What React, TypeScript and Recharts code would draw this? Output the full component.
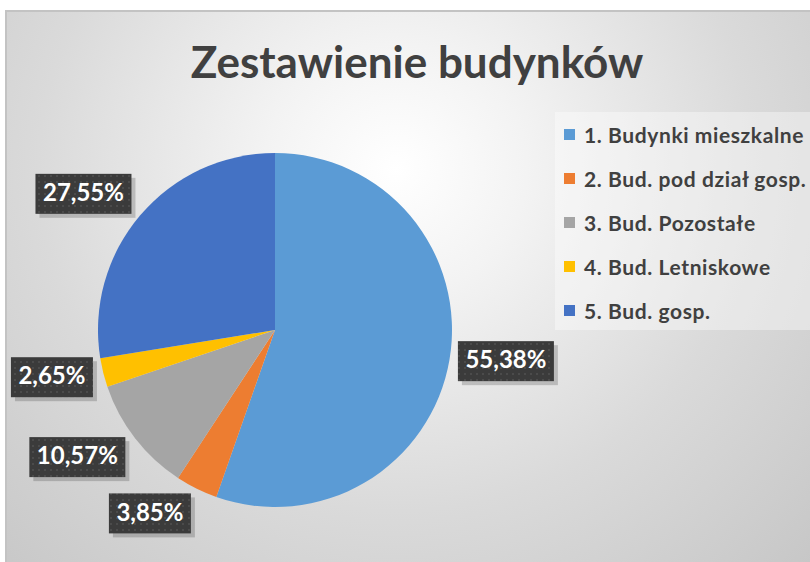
import { PieChart, Pie, Cell, Legend } from "recharts";

const categories = [
  "1. Budynki mieszkalne",
  "2. Bud. pod dział gosp.",
  "3. Bud. Pozostałe",
  "4. Bud. Letniskowe",
  "5. Bud. gosp.",
];
const shares = [55.38, 3.85, 10.57, 2.65, 27.55];
const colors = ["#5B9BD5", "#ED7D31", "#A5A5A5", "#FFC000", "#4472C4"];

// best-fit label nudges (degrees clockwise, extra radius)
const labelTurn = [-2, 8, 5, 2, -5];
const labelGap = [56, 45, 58, 51, 58];

const data = categories.map((name, i) => ({ name, value: shares[i] }));

const RAD = Math.PI / 180;
const fmt = (v: number) => v.toFixed(2).replace(".", ",") + "%";

const renderLabel = (props: any) => {
  const { cx, cy, midAngle, outerRadius, value, index } = props;
  const a = midAngle - labelTurn[index];
  const r = outerRadius + labelGap[index];
  const x = cx + r * Math.cos(-a * RAD);
  const y = cy + r * Math.sin(-a * RAD);
  const text = fmt(value);
  const w = text.length * 14 + 12;
  const h = 40;
  return (
    <g>
      <rect x={x - w / 2 + 4} y={y - h / 2 + 4} width={w} height={h} fill="rgba(0,0,0,0.18)" />
      <rect x={x - w / 2} y={y - h / 2} width={w} height={h} fill="url(#dots)" />
      <text
        x={x}
        y={y + 1}
        textAnchor="middle"
        dominantBaseline="middle"
        fill="#ffffff"
        fontSize={24}
        fontWeight={700}
        fontFamily="Lato, sans-serif"
      >
        {text}
      </text>
    </g>
  );
};

const LegendBox = () => (
  <div
    style={{
      width: 255,
      height: 218,
      background: "rgba(255,255,255,0.38)",
      boxSizing: "border-box",
    }}
  >
    {categories.map((c, i) => (
      <div
        key={c}
        style={{ display: "flex", alignItems: "center", height: 44, paddingLeft: 9 }}
      >
        <div style={{ width: 11, height: 11, background: colors[i], marginRight: 9 }} />
        <span
          style={{
            fontFamily: "Lato, sans-serif",
            fontWeight: 700,
            fontSize: 21,
            letterSpacing: 0.6,
            color: "#404040",
            whiteSpace: "nowrap",
          }}
        >
          {c}
        </span>
      </div>
    ))}
  </div>
);

export default function App() {
  return (
    <div style={{ position: "absolute", left: 0, top: 0, width: 810, height: 562, background: "#fff", overflow: "hidden" }}>
      <div
        style={{
          position: "absolute",
          left: 5,
          top: 10,
          width: 810,
          height: 560,
          borderTop: "2px solid #c3c3c3",
          borderLeft: "2px solid #c3c3c3",
          background:
            "radial-gradient(ellipse farthest-corner at 48% 28%, #ffffff 0%, #f3f3f3 22%, #dadada 60%, #c6c6c6 100%)",
        }}
      >
        <div
          style={{
            position: "absolute",
            left: 0,
            top: 23,
            width: 820,
            textAlign: "center",
            fontFamily: "Lato, sans-serif",
            fontWeight: 700,
            fontSize: 44,
            color: "#404040",
          }}
        >
          Zestawienie budynków
        </div>
        <PieChart width={803} height={550} style={{ position: "absolute", left: 0, top: 0 }}>
          <defs>
            <pattern id="dots" width="6" height="6" patternUnits="userSpaceOnUse">
              <rect width="6" height="6" fill="#3b3b3b" />
              <rect x="1" y="1" width="2" height="2" fill="#4b4b4b" />
            </pattern>
          </defs>
          <Pie
            data={data}
            dataKey="value"
            nameKey="name"
            cx={263}
            cy={313}
            outerRadius={177}
            startAngle={90}
            endAngle={-270}
            stroke="none"
            label={renderLabel}
            labelLine={false}
            isAnimationActive={false}
          >
            {data.map((d, i) => (
              <Cell key={d.name} fill={colors[i]} />
            ))}
          </Pie>
          <Legend
            content={<LegendBox />}
            wrapperStyle={{ left: 548, top: 100, width: 255 }}
          />
        </PieChart>
      </div>
    </div>
  );
}
